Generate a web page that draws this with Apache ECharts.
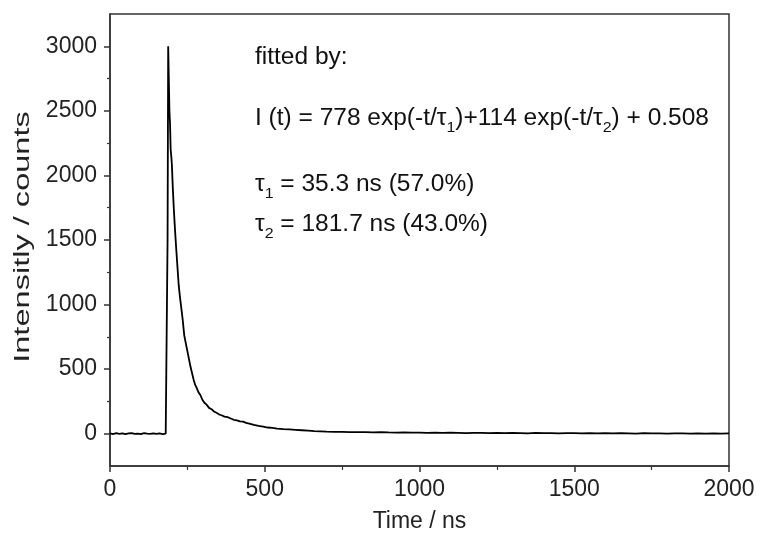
<!DOCTYPE html>
<html>
<head>
<meta charset="utf-8">
<script src="https://cdn.jsdelivr.net/npm/echarts@6/dist/echarts.min.js"></script>
<style>
html,body{margin:0;padding:0;background:#fff;}
#chart{width:760px;height:538px;}
</style>
</head>
<body>
<div id="chart"></div>
<script>
// Time (ns)
var times = [0,10,20,30,40,50,60,70,80,90,100,110,120,130,140,150,160,170,180,
  184,186,188,190,192,194,196,198,200,203,206,210,214,218,222,226,230,235,240,245,250,255,260,265,270,275,280,
  286,292,298,305,312,320,328,336,344,352,360,370,380,390,400,410,420,430,440,450,465,480,495,510,525,540,
  560,580,600,620,640,660,680,700,725,750,775,800,825,850,875,900,925,950,975,1000,1025,1050,1075,1100,
  1125,1150,1175,1200,1225,1250,1275,1300,1325,1350,1375,1400,1425,1450,1475,1500,1525,1550,1575,1600,
  1625,1650,1675,1700,1725,1750,1775,1800,1825,1850,1875,1900,1925,1950,1975,2000];
// Intensity (counts)
var counts = [2,-3,4,-1,3,-4,2,5,-2,1,-3,4,0,-2,3,-1,2,-3,1,
  2,1500,3000,2750,2500,2400,2200,2150,2080,1900,1750,1580,1430,1290,1150,1060,980,880,760,700,640,580,520,470,420,380,355,
  320,300,265,240,225,200,190,172,162,150,143,132,128,118,108,104,96,94,84,78,68,60,55,48,45,40,
  36,33,30,27,24,20,18,16,15,14,12,13,12,11,12,10,9,11,8,9,7,9,6,8,
  7,5,7,6,5,7,4,6,5,3,6,4,5,3,5,4,2,5,3,4,
  2,4,3,1,4,2,3,1,3,2,0,3,1,2,0,2];
var xTicks = [0,500,1000,1500,2000];
var yTicks = [0,500,1000,1500,2000,2500,3000];
var yMinorTicks = [250,750,1250,1750,2250,2750];
var xName = 'Time / ns';
var yName = 'Intensitly / counts';

var font = 'Liberation Sans, Arial, sans-serif';
var chart = echarts.init(document.getElementById('chart'));
var data = times.map(function(t,i){return [t,counts[i]];});
var axisCol = '#333';
var fmt = function(v){return String(v);};
var rich = {n:{fontSize:23,fontFamily:font,fill:'#111',lineHeight:32,verticalAlign:'middle'},
            s:{fontSize:15,fontFamily:font,fill:'#111',lineHeight:32,verticalAlign:'bottom'}};
var sx = 1.065;
chart.setOption({
  animation:false,
  backgroundColor:'#fff',
  grid:{left:110,right:31,top:14,bottom:70,show:true,borderColor:axisCol,borderWidth:1.5,backgroundColor:'transparent'},
  xAxis:{type:'value',min:0,max:2000,interval:500,
    axisLine:{onZero:false,lineStyle:{color:axisCol,width:1.5}},
    axisTick:{length:6,lineStyle:{color:axisCol,width:1.5}},
    minorTick:{show:true,splitNumber:2,length:4,lineStyle:{color:axisCol,width:1.2}},
    splitLine:{show:false},
    axisLabel:{color:'#222',fontSize:23,fontFamily:font,margin:12,customValues:xTicks,formatter:fmt},
    name:xName,nameLocation:'middle',nameGap:44,
    nameTextStyle:{color:'#222',fontSize:23,fontFamily:font}},
  yAxis:[{type:'value',min:-250,max:3250,
    axisLine:{onZero:false,lineStyle:{color:axisCol,width:1.5}},
    axisTick:{length:6,customValues:yTicks,lineStyle:{color:axisCol,width:1.5}},
    splitLine:{show:false},
    axisLabel:{color:'#222',fontSize:23,fontFamily:font,margin:13,customValues:yTicks,formatter:fmt}},
   {type:'value',min:-250,max:3250,position:'left',
    axisLine:{show:false},
    axisTick:{length:3,customValues:yMinorTicks,lineStyle:{color:axisCol,width:1.2}},
    axisLabel:{show:false},splitLine:{show:false}}],
  series:[{type:'line',data:data,showSymbol:false,
    lineStyle:{color:'#000',width:1.8},clip:true}],
  graphic:[
    {type:'text',x:23,y:237,rotation:Math.PI/2,scaleX:1.48,
      style:{text:yName,font:'22px '+font,fill:'#222',align:'center',verticalAlign:'middle'}},
    {type:'text',x:255,y:58,scaleX:sx,style:{text:'fitted by:',font:'23px '+font,fill:'#111',verticalAlign:'middle'}},
    {type:'text',x:255,y:119,scaleX:sx,style:{
      text:'{n|I (t) = 778 exp(-t/τ}{s|1}{n|)+114 exp(-t/τ}{s|2}{n|) + 0.508}',rich:rich,verticalAlign:'middle'}},
    {type:'text',x:255,y:185,scaleX:sx,style:{
      text:'{n|τ}{s|1}{n| = 35.3 ns (57.0%)}',rich:rich,verticalAlign:'middle'}},
    {type:'text',x:255,y:225,scaleX:sx,style:{
      text:'{n|τ}{s|2}{n| = 181.7 ns (43.0%)}',rich:rich,verticalAlign:'middle'}}
  ]
});
</script>
</body>
</html>
